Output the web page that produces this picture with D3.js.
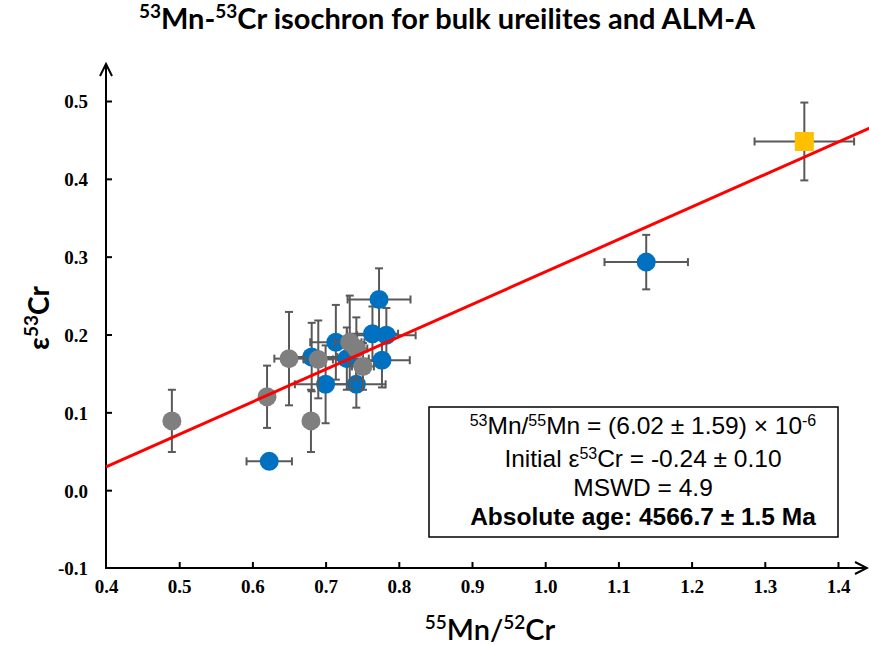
<!DOCTYPE html>
<html>
<head>
<meta charset="utf-8">
<script src="https://cdn.jsdelivr.net/npm/d3@7"></script>
<style>
  html, body { margin: 0; padding: 0; background: #fff; }
  svg { display: block; }
</style>
</head>
<body>
<script>
// ---------- data ----------
const xTicks = [0.4, 0.5, 0.6, 0.7, 0.8, 0.9, 1.0, 1.1, 1.2, 1.3, 1.4];
const yTicks = [-0.1, 0.0, 0.1, 0.2, 0.3, 0.4, 0.5];

// gray ureilites: x, y, xerr, yerr
const grayX    = [0.490, 0.620, 0.650, 0.680, 0.690, 0.733, 0.742, 0.751];
const grayY    = [0.089, 0.120, 0.169, 0.089, 0.168, 0.190, 0.182, 0.159];
const grayXErr = [0, 0, 0.020, 0, 0.020, 0.020, 0.015, 0.015];
const grayYErr = [0.040, 0.040, 0.060, 0.040, 0.050, 0.060, 0.040, 0.030];

// blue ureilites
const blueX    = [0.623, 0.681, 0.700, 0.714, 0.729, 0.742, 0.764, 0.773, 0.777, 0.783, 1.138];
const blueY    = [0.037, 0.171, 0.136, 0.190, 0.169, 0.136, 0.201, 0.245, 0.167, 0.199, 0.293];
const blueXErr = [0.031, 0.035, 0.042, 0.035, 0.030, 0.040, 0.035, 0.043, 0.038, 0.040, 0.057];
const blueYErr = [0.008, 0.044, 0.050, 0.048, 0.040, 0.030, 0.035, 0.040, 0.035, 0.035, 0.035];

// ALM-A
const almX = [1.354], almY = [0.448], almXErr = [0.068], almYErr = [0.050];

// isochron regression line endpoints
const lineX = [0.4, 1.445];
const lineY = [0.030, 0.466];

const W = 869, H = 645;
const svg = d3.select("body").append("svg").attr("width", W).attr("height", H);

const x = d3.scaleLinear().domain([0.4, 1.4]).range([106, 838]);
const y = d3.scaleLinear().domain([-0.1, 0.5]).range([568, 101]);

// ---------- axes ----------
const axisColor = "#000";
const fmt = d => d.toFixed(1);
const xAxis = d3.axisBottom(x).tickValues(xTicks).tickSize(-6).tickPadding(12).tickFormat(fmt);
const yAxis = d3.axisLeft(y).tickValues(yTicks).tickSize(-6).tickPadding(18).tickFormat(fmt);

const gx = svg.append("g").attr("transform", `translate(0,${y(-0.1)})`).call(xAxis);
const gy = svg.append("g").attr("transform", `translate(${x(0.4)},0)`).call(yAxis);
[gx, gy].forEach(g => {
  g.select(".domain").remove();
  g.selectAll(".tick line").attr("stroke", axisColor).attr("stroke-width", 2);
  g.selectAll(".tick text").attr("fill", "#000")
    .style("font-family", "'Liberation Serif', 'Times New Roman', serif")
    .style("font-weight", "bold").style("font-size", "19px");
});
gx.selectAll(".tick").filter(d => d === 0.4).select("line").remove();
gy.selectAll(".tick").filter(d => d === -0.1).select("line").remove();
gy.selectAll(".tick text").attr("dy", "0.36em");

// axis lines with arrows
const x0 = x(0.4), yb = y(-0.1);
svg.append("line").attr("x1", x0).attr("y1", yb + 1).attr("x2", x0).attr("y2", 64)
  .attr("stroke", axisColor).attr("stroke-width", 2);
svg.append("path").attr("d", `M${x0 - 6},${76} L${x0},${64} L${x0 + 6},${76}`)
  .attr("fill", "none").attr("stroke", axisColor).attr("stroke-width", 2);
svg.append("line").attr("x1", x0 - 1).attr("y1", yb).attr("x2", 867).attr("y2", yb)
  .attr("stroke", axisColor).attr("stroke-width", 2);
svg.append("path").attr("d", `M${855},${yb - 6} L${867},${yb} L${855},${yb + 6}`)
  .attr("fill", "none").attr("stroke", axisColor).attr("stroke-width", 2);

// ---------- error bars + markers ----------
const errColor = "#595959";
const cap = 4;
function errorBars(xs, ys, xe, ye) {
  const g = svg.append("g").attr("stroke", errColor).attr("stroke-width", 2).attr("fill", "none");
  xs.forEach((xv, i) => {
    const yv = ys[i];
    if (ye[i] > 0) {
      const ya = y(yv + ye[i]), yb2 = y(yv - ye[i]), xp = x(xv);
      g.append("line").attr("x1", xp).attr("x2", xp).attr("y1", ya).attr("y2", yb2);
      g.append("line").attr("x1", xp - cap).attr("x2", xp + cap).attr("y1", ya).attr("y2", ya);
      g.append("line").attr("x1", xp - cap).attr("x2", xp + cap).attr("y1", yb2).attr("y2", yb2);
    }
    if (xe[i] > 0) {
      const xa = x(xv - xe[i]), xb = x(xv + xe[i]), yp = y(yv);
      g.append("line").attr("x1", xa).attr("x2", xb).attr("y1", yp).attr("y2", yp);
      g.append("line").attr("x1", xa).attr("x2", xa).attr("y1", yp - cap).attr("y2", yp + cap);
      g.append("line").attr("x1", xb).attr("x2", xb).attr("y1", yp - cap).attr("y2", yp + cap);
    }
  });
}
function circles(xs, ys, color) {
  svg.append("g").selectAll("circle").data(xs).join("circle")
    .attr("cx", d => x(d)).attr("cy", (d, i) => y(ys[i])).attr("r", 9.5)
    .attr("fill", color);
}

errorBars(blueX, blueY, blueXErr, blueYErr);
circles(blueX, blueY, "#0070C0");
errorBars(grayX, grayY, grayXErr, grayYErr);
circles(grayX, grayY, "#7F7F7F");
errorBars(almX, almY, almXErr, almYErr);
svg.append("g").selectAll("rect").data(almX).join("rect")
  .attr("x", d => x(d) - 9.5).attr("y", (d, i) => y(almY[i]) - 9.5)
  .attr("width", 19).attr("height", 19).attr("fill", "#FFC000");

// regression line
svg.append("line")
  .attr("x1", x(lineX[0])).attr("y1", y(lineY[0]))
  .attr("x2", x(lineX[1])).attr("y2", y(lineY[1]))
  .attr("stroke", "#FF0000").attr("stroke-width", 3);

// ---------- annotation box ----------
svg.append("rect").attr("x", 429).attr("y", 407).attr("width", 409).attr("height", 130)
  .attr("fill", "#fff").attr("stroke", "#000").attr("stroke-width", 1.5);

const boxFont = "'Liberation Sans', Arial, sans-serif";
const bx = 643;
function supLine(yPos, parts, weight) {
  const t = svg.append("text").attr("x", bx).attr("y", yPos).attr("text-anchor", "middle")
    .style("font-family", boxFont).style("font-size", "24.5px").style("font-weight", weight || "normal")
    .attr("fill", "#000");
  parts.forEach(p => {
    const s = t.append("tspan").text(p.t);
    if (p.sup) s.attr("baseline-shift", "super").style("font-size", "16px");
  });
  return t;
}
supLine(434, [{t: "53", sup: true}, {t: "Mn/"}, {t: "55", sup: true}, {t: "Mn = (6.02 ± 1.59) × 10"}, {t: "-6", sup: true}]);
supLine(467, [{t: "Initial ε"}, {t: "53", sup: true}, {t: "Cr = -0.24 ± 0.10"}]);
supLine(496, [{t: "MSWD = 4.9"}]);
supLine(525, [{t: "Absolute age: 4566.7 ± 1.5 Ma"}], "bold");

// ---------- titles ----------
const titleFont = "Lato, 'Open Sans', sans-serif";
function supText(xPos, yPos, parts, size, weight, supSize) {
  const t = svg.append("text").attr("x", xPos).attr("y", yPos).attr("text-anchor", "middle")
    .style("font-family", titleFont).style("font-size", size + "px").style("font-weight", weight)
    .attr("fill", "#000");
  parts.forEach(p => {
    const s = t.append("tspan").text(p.t);
    if (p.sup) s.attr("baseline-shift", "super").style("font-size", supSize + "px");
  });
  return t;
}
supText(447, 29, [{t: "53", sup: true}, {t: "Mn-"}, {t: "53", sup: true}, {t: "Cr isochron for bulk ureilites and ALM-A"}], 29, "bold", 19);
supText(490, 640, [{t: "55", sup: true}, {t: "Mn/"}, {t: "52", sup: true}, {t: "Cr"}], 29, "600", 19);
supText(0, 0, [{t: "ε"}, {t: "53", sup: true}, {t: "Cr"}], 28, "bold", 19)
  .attr("transform", "translate(49,318) rotate(-90)");
</script>
</body>
</html>
